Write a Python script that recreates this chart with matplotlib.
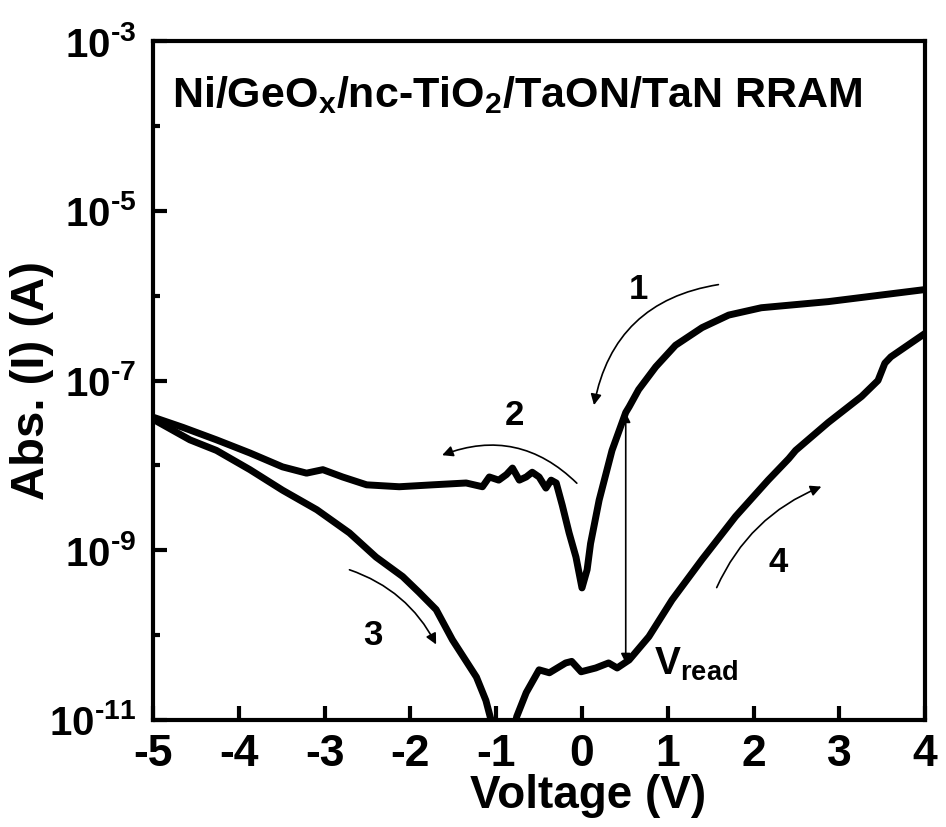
import math
import matplotlib
matplotlib.use("Agg")
import matplotlib.pyplot as plt
from matplotlib.ticker import FixedLocator, FuncFormatter, NullFormatter

FONT = "Liberation Sans"
HY = "\u2010"
plt.rcParams['font.family'] = [FONT, 'DejaVu Sans']
plt.rcParams['font.weight'] = 'bold'
plt.rcParams['mathtext.fontset'] = 'custom'
plt.rcParams['mathtext.rm'] = FONT + ':bold'
plt.rcParams['mathtext.it'] = FONT + ':bold'
plt.rcParams['mathtext.bf'] = FONT + ':bold'

# Sweep 1 & 2 (high-resistance path from +4 V down to -5 V)
v_upper = [4.0, 2.87, 2.09, 1.71, 1.40, 1.09, 0.86, 0.66, 0.55, 0.51, 0.35, 0.20, 0.10,
           0.06, 0.0, -0.07, -0.15, -0.23, -0.30, -0.36, -0.42, -0.50, -0.58, -0.65,
           -0.73, -0.81, -0.88, -0.97, -1.08, -1.16, -1.35, -1.74, -2.13, -2.51, -2.79,
           -3.02, -3.21, -3.49, -3.87, -4.26, -4.65, -5.0]
i_upper = [1.18e-6, 8.5e-7, 7.2e-7, 5.9e-7, 4.2e-7, 2.6e-7, 1.45e-7, 7.8e-8, 4.9e-8, 4.2e-8,
           1.5e-8, 3.9e-9, 1.2e-9, 5.9e-10, 3.6e-10, 8.3e-10, 1.6e-9, 3.4e-9, 6.2e-9, 6.7e-9,
           5.4e-9, 7.3e-9, 8.3e-9, 7.3e-9, 6.7e-9, 9.3e-9, 7.8e-9, 6.7e-9, 7.3e-9, 5.6e-9,
           6.2e-9, 5.9e-9, 5.6e-9, 5.9e-9, 7.3e-9, 8.9e-9, 8.1e-9, 9.6e-9, 1.4e-8, 2.0e-8,
           2.8e-8, 3.7e-8]

# Sweep 3 & 4 (from -5 V up to +4 V)
v_lower = [-5.0, -4.57, -4.26, -3.87, -3.49, -3.09, -2.71, -2.40, -2.09, -1.90, -1.70,
           -1.51, -1.23, -1.12, -1.06, -1.0, -0.82, -0.76, -0.65, -0.50, -0.38, -0.19,
           -0.12, -0.01, 0.16, 0.31, 0.41, 0.55, 0.78, 1.05, 1.40, 1.79, 2.17, 2.41,
           2.49, 2.87, 3.26, 3.45, 3.53, 3.60, 4.0]
i_lower = [3.5e-8, 2.0e-8, 1.5e-8, 8.9e-9, 5.1e-9, 3.0e-9, 1.6e-9, 8.3e-10, 4.9e-10,
           3.2e-10, 2.0e-10, 8.8e-11, 3.2e-11, 1.7e-11, 1.0e-11, 6e-12, 6e-12, 1.1e-11,
           2.1e-11, 3.9e-11, 3.6e-11, 4.7e-11, 4.9e-11, 3.7e-11, 4.1e-11, 4.7e-11,
           4.1e-11, 5.1e-11, 9.6e-11, 2.6e-10, 7.8e-10, 2.5e-9, 6.7e-9, 1.2e-8, 1.5e-8,
           3.2e-8, 6.5e-8, 1.0e-7, 1.6e-7, 1.9e-7, 3.6e-7]

x_ticks = [-5, -4, -3, -2, -1, 0, 1, 2, 3, 4]
y_major = [1e-11, 1e-9, 1e-7, 1e-5, 1e-3]
y_minor = [1e-10, 1e-8, 1e-6, 1e-4]

fig = plt.figure(figsize=(9.46, 8.27), dpi=100)
ax = fig.add_axes([0.1617, 0.1294, 0.8163, 0.821])

ax.plot(v_upper, i_upper, color='black', lw=5, solid_joinstyle='round', solid_capstyle='round')
ax.plot(v_lower, i_lower, color='black', lw=5, solid_joinstyle='round', solid_capstyle='round')

ax.set_yscale('log')
ax.set_xlim(-5, 4)
ax.set_ylim(1e-11, 1e-3)
ax.xaxis.set_major_locator(FixedLocator(x_ticks))
ax.yaxis.set_major_locator(FixedLocator(y_major))
ax.yaxis.set_minor_locator(FixedLocator(y_minor))
ax.yaxis.set_minor_formatter(NullFormatter())
ax.yaxis.set_major_formatter(FuncFormatter(
    lambda v, p: r'$\mathregular{10^{' + HY + '%d}}$' % abs(round(math.log10(v)))))
ax.xaxis.set_major_formatter(FuncFormatter(lambda v, p: (HY + '%d' % abs(v)) if v < 0 else '%d' % v))

for s in ax.spines.values():
    s.set_linewidth(3)
ax.tick_params(which='major', direction='in', length=10, width=3, top=False, right=False)
ax.tick_params(which='minor', direction='in', length=5, width=3, top=False, right=False)
ax.tick_params(axis='x', labelsize=32, pad=10)
ax.tick_params(axis='y', labelsize=29, pad=12)
for lab in ax.get_xticklabels() + ax.get_yticklabels():
    lab.set_fontweight('bold')

ax.set_xlabel('Voltage (V)', fontsize=33, fontweight='bold')
ax.set_ylabel('Abs. (I) (A)', fontsize=34, fontweight='bold')
ax.xaxis.set_label_coords(0.563, -0.08)
ax.yaxis.set_label_coords(-0.128, 0.5)

ax.text(-4.78, 10**-3.64, r'Ni/GeO$_\mathregular{x}$/nc-TiO$_\mathregular{2}$/TaON/TaN RRAM',
        fontsize=31, fontweight='bold', va='center', ha='left')

ap = dict(arrowstyle='-|>', color='black', lw=1.2, mutation_scale=16, shrinkA=0, shrinkB=0)
ax.annotate('', xy=(0.14, 10**-7.29), xytext=(1.59, 10**-5.87),
            arrowprops=dict(ap, connectionstyle='arc3,rad=0.35'))
ax.annotate('', xy=(-1.63, 10**-7.88), xytext=(-0.06, 10**-8.21),
            arrowprops=dict(ap, connectionstyle='arc3,rad=0.32'))
ax.annotate('', xy=(-1.70, 10**-10.11), xytext=(-2.71, 10**-9.23),
            arrowprops=dict(ap, connectionstyle='arc3,rad=-0.2'))
ax.annotate('', xy=(2.79, 10**-8.25), xytext=(1.57, 10**-9.44),
            arrowprops=dict(ap, connectionstyle='arc3,rad=-0.2'))
ax.annotate('', xy=(0.51, 10**-7.38), xytext=(0.51, 10**-10.33),
            arrowprops=dict(arrowstyle='<|-|>', color='black', lw=1.2, mutation_scale=14,
                            shrinkA=0, shrinkB=0))

for txt, xv, yl in [('1', 0.66, -5.93), ('2', -0.79, -7.41), ('3', -2.44, -10.0), ('4', 2.29, -9.14)]:
    ax.text(xv, 10**yl, txt, fontsize=25, fontweight='bold', ha='center', va='center')

ax.text(0.84, 10**-10.35, r'V$_\mathregular{read}$', fontsize=28, fontweight='bold',
        ha='left', va='center')

fig.savefig('out.png', dpi=100)
